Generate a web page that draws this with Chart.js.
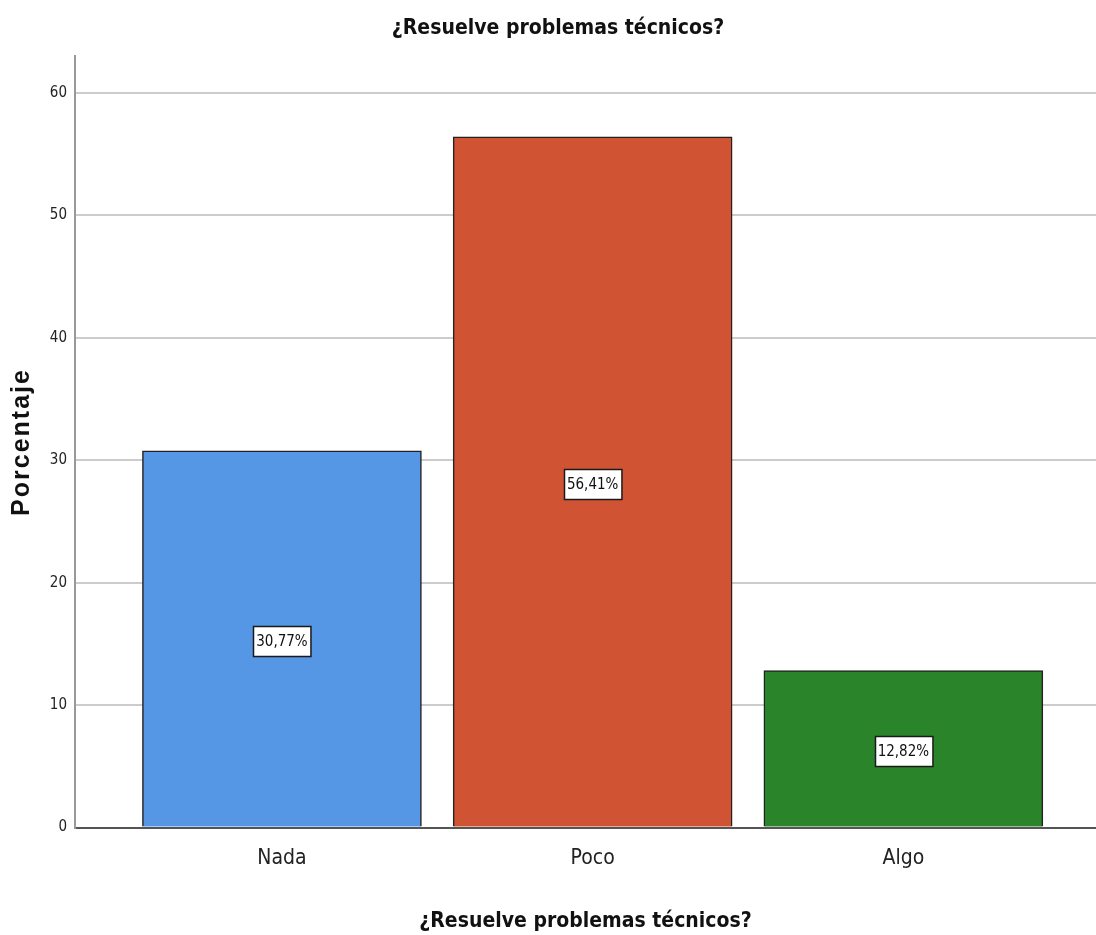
<!DOCTYPE html>
<html>
<head>
<meta charset="utf-8">
<script src="https://cdn.jsdelivr.net/npm/chart.js@4/dist/chart.umd.min.js"></script>
<style>
  html, body { margin: 0; padding: 0; background: #fff; }
  #chart { display: block; }
</style>
</head>
<body>
<canvas id="chart" width="1096" height="935"></canvas>
<script>
// Chart data
const categories = ['Nada', 'Poco', 'Algo'];
const percentages = [30.77, 56.41, 12.82];
const percentLabels = ['30,77%', '56,41%', '12,82%'];
const barColors = ['#5596E5', '#D05433', '#2A852A'];
const yTicks = [0, 10, 20, 30, 40, 50, 60];

const narrowFont = '"Liberation Sans Narrow", "Arial Narrow", "DejaVu Sans Condensed", sans-serif';

// Draws the white value boxes in the middle of each bar
const valueBoxes = {
    id: 'valueBoxes',
    afterDatasetsDraw(chart) {
        const ctx = chart.ctx;
        const meta = chart.getDatasetMeta(0);
        ctx.save();
        ctx.font = '15px ' + narrowFont;
        ctx.textAlign = 'center';
        ctx.textBaseline = 'middle';
        meta.data.forEach((bar, i) => {
            const text = percentLabels[i];
            const midY = (bar.y + bar.base) / 2 + 2;
            const w = ctx.measureText(text).width + 6;
            const h = 30;
            const left = Math.round(bar.x - w / 2) + 0.5;
            const top = Math.round(midY - h / 2) + 0.5;
            ctx.fillStyle = '#ffffff';
            ctx.fillRect(left, top, w, h);
            ctx.strokeStyle = '#1a1a1a';
            ctx.lineWidth = 1.5;
            ctx.strokeRect(left, top, w, h);
            ctx.fillStyle = '#111';
            ctx.fillText(text, bar.x, midY + 1);
        });
        ctx.restore();
    }
};

// Vertical y-axis title, drawn by hand so it can be letter-spaced
const yTitle = {
    id: 'yTitle',
    afterDraw(chart) {
        const ctx = chart.ctx;
        ctx.save();
        ctx.translate(22, 442);
        ctx.rotate(-Math.PI / 2);
        ctx.font = 'bold 25px "Liberation Sans", Arial, sans-serif';
        if ('letterSpacing' in ctx) ctx.letterSpacing = '2px';
        ctx.textAlign = 'center';
        ctx.textBaseline = 'middle';
        ctx.fillStyle = '#111';
        ctx.fillText('Porcentaje', 0, 0);
        ctx.restore();
    }
};

const ctx = document.getElementById('chart');
new Chart(ctx, {
    type: 'bar',
    data: {
        datasets: [{
            data: percentages.map((v, i) => ({ x: i, y: v })),
            backgroundColor: barColors,
            borderColor: '#222222',
            borderWidth: 1.5,
            barThickness: 279
        }]
    },
    options: {
        responsive: false,
        animation: false,
        layout: { padding: { top: 8, right: 0, bottom: 1, left: 20 } },
        plugins: {
            legend: { display: false },
            tooltip: { enabled: false },
            title: {
                display: true,
                text: '¿Resuelve problemas técnicos?',
                color: '#111',
                font: { family: narrowFont, size: 21, weight: 'bold' },
                padding: { top: 8, bottom: 15 }
            }
        },
        scales: {
            x: {
                type: 'linear',
                offset: false,
                min: -0.666,
                max: 2.62,
                afterBuildTicks(axis) {
                    axis.ticks = categories.map((c, i) => ({ value: i }));
                },
                ticks: {
                    autoSkip: false,
                    maxRotation: 0,
                    color: '#222',
                    font: { family: narrowFont, size: 21 },
                    padding: 18,
                    callback: (value) => categories[value] ?? ''
                },
                grid: { display: false, drawTicks: false },
                border: { display: true, color: '#555', width: 2 },
                title: {
                    display: true,
                    text: '¿Resuelve problemas técnicos?',
                    color: '#111',
                    font: { family: narrowFont, size: 21, weight: 'bold' },
                    padding: { top: 20, bottom: 0 }
                }
            },
            y: {
                min: 0,
                max: 63,
                afterBuildTicks(axis) {
                    axis.ticks = yTicks.map(v => ({ value: v }));
                },
                afterFit(axis) {
                    axis.width = 55;
                },
                ticks: {
                    color: '#222',
                    font: { family: narrowFont, size: 15 },
                    padding: 8
                },
                grid: {
                    color: '#cccccc',
                    lineWidth: 2,
                    drawTicks: false
                },
                border: { display: true, color: '#999', width: 2 }
            }
        }
    },
    plugins: [valueBoxes, yTitle]
});
</script>
</body>
</html>
